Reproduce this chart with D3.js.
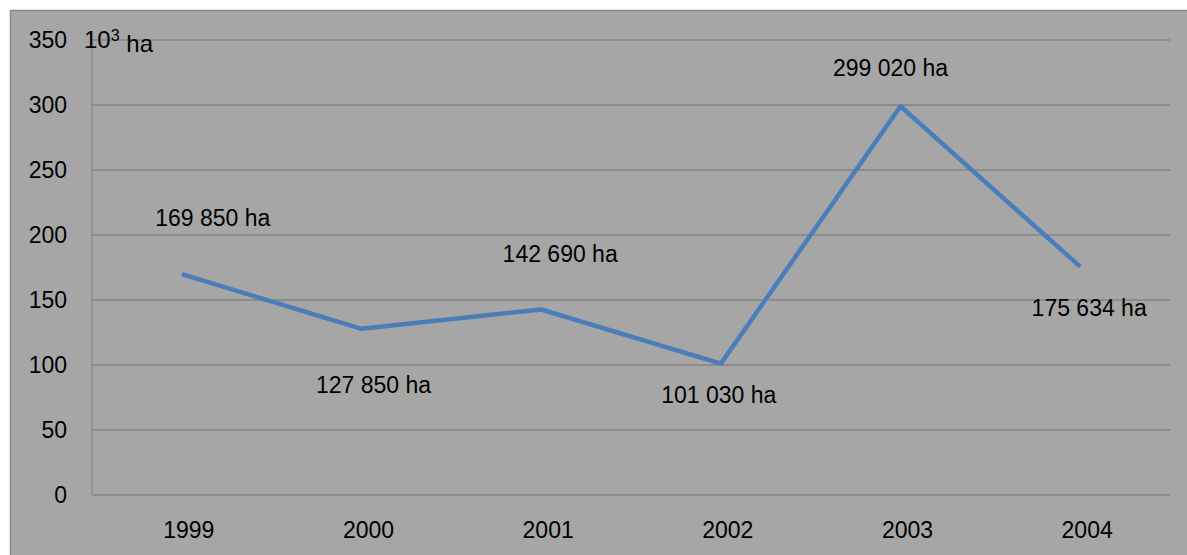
<!DOCTYPE html>
<html>
<head>
<meta charset="utf-8">
<script src="https://cdn.jsdelivr.net/npm/d3@7"></script>
<style>
  body { margin: 0; background: #fff; }
  svg { display: block; font-family: "Liberation Sans", Arial, sans-serif; }
</style>
</head>
<body>
<svg width="1187" height="555"></svg>
<script>
// data (thousand ha)
var years = ["1999", "2000", "2001", "2002", "2003", "2004"];
var area = [169.85, 127.85, 142.69, 101.03, 299.02, 175.634];
var areaLabels = ["169 850 ha", "127 850 ha", "142 690 ha", "101 030 ha", "299 020 ha", "175 634 ha"];
var yTicks = [0, 50, 100, 150, 200, 250, 300, 350];

// label nudges (px) so they sit where the original put them
var labelDx = [31, 12, 19, -2, -10, 9];
var labelDy = [-56, 56, -56, 31, -38, 41];

var svg = d3.select("svg");

// chart area box
svg.append("rect")
    .attr("x", 10.5).attr("y", 10.5)
    .attr("width", 1200).attr("height", 600)
    .style("fill", "#a6a6a6")
    .style("stroke", "#8a8a8a")
    .style("stroke-width", 1.5);

var plotL = 92, plotR = 1170, plotT = 40, plotB = 495;

var x = d3.scaleBand().domain(years).range([plotL, plotR]);
var y = d3.scaleLinear().domain([0, 350]).range([plotB, plotT]);

// gridlines
svg.selectAll("line.grid")
    .data(yTicks)
  .enter().append("line")
    .attr("class", "grid")
    .attr("x1", plotL).attr("x2", plotR)
    .attr("y1", function(d) { return y(d); })
    .attr("y2", function(d) { return y(d); })
    .style("stroke", "#8c8c8c")
    .style("stroke-width", 2);

// y axis line
svg.append("line")
    .attr("x1", plotL).attr("x2", plotL)
    .attr("y1", plotT).attr("y2", plotB)
    .style("stroke", "#8c8c8c")
    .style("stroke-width", 1.5);

// y tick labels
svg.selectAll("text.ytick")
    .data(yTicks)
  .enter().append("text")
    .attr("class", "ytick")
    .attr("x", 67)
    .attr("y", function(d) { return y(d); })
    .attr("dy", "0.35em")
    .attr("text-anchor", "end")
    .style("font-size", "23px")
    .text(function(d) { return d; });

// unit
var unit = svg.append("text")
    .attr("x", 84).attr("y", y(350))
    .attr("dy", "0.35em")
    .style("font-size", "24px");
unit.append("tspan").text("10");
unit.append("tspan").attr("dy", "-0.45em").style("font-size", "16px").text("3");
unit.append("tspan").attr("dy", "0.45em").text(" ha");

// x labels
svg.selectAll("text.xtick")
    .data(years)
  .enter().append("text")
    .attr("class", "xtick")
    .attr("x", function(d) { return x(d) + x.bandwidth() / 2 + 7; })
    .attr("y", 530)
    .attr("dy", "0.35em")
    .attr("text-anchor", "middle")
    .style("font-size", "23px")
    .text(function(d) { return d; });

// the line
var line = d3.line()
    .x(function(d, i) { return x(years[i]) + x.bandwidth() / 2; })
    .y(function(d) { return y(d); });

svg.append("path")
    .datum(area)
    .attr("d", line)
    .style("fill", "none")
    .style("stroke", "#4a7ebb")
    .style("stroke-width", 4.5)
    .style("stroke-linejoin", "round");

// data labels
svg.selectAll("text.dlabel")
    .data(area)
  .enter().append("text")
    .attr("class", "dlabel")
    .attr("x", function(d, i) { return x(years[i]) + x.bandwidth() / 2 + labelDx[i]; })
    .attr("y", function(d, i) { return y(d) + labelDy[i]; })
    .attr("dy", "0.35em")
    .attr("text-anchor", "middle")
    .style("font-size", "23px")
    .text(function(d, i) { return areaLabels[i]; });
</script>
</body>
</html>
